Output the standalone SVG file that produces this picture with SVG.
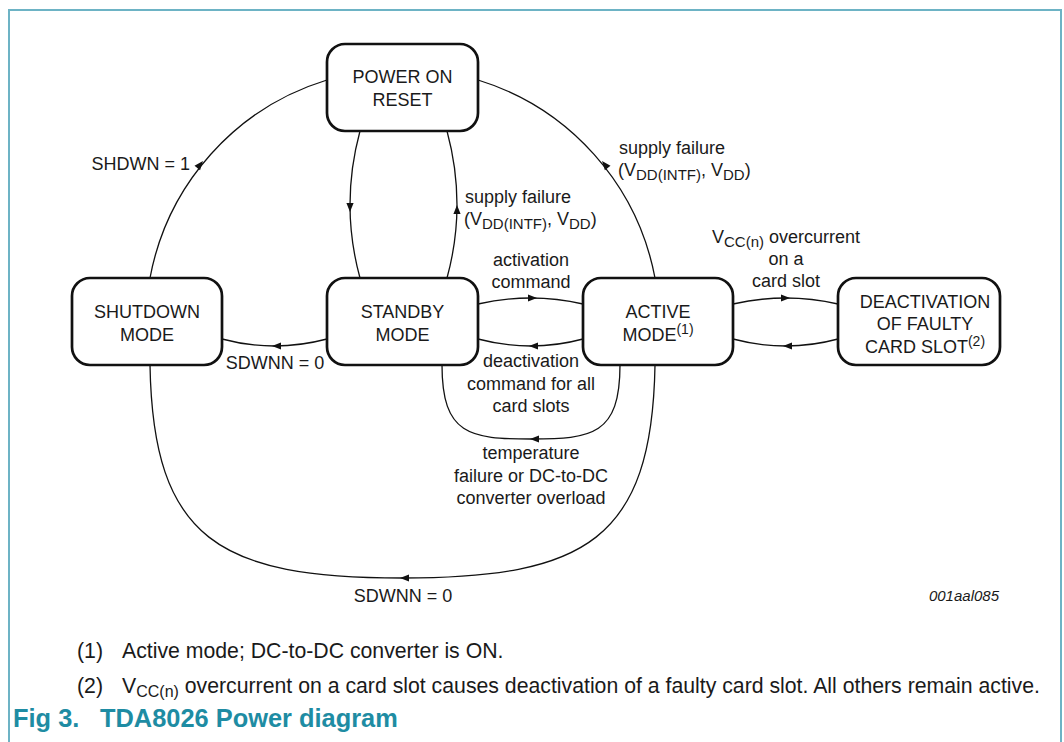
<svg xmlns="http://www.w3.org/2000/svg" width="1064" height="742" viewBox="0 0 1064 742">
<defs>
<style>
.box{fill:#fff;stroke:#111;stroke-width:2.7}
.t{font-family:"Liberation Sans",Arial,sans-serif;font-size:18px;fill:#1a1a1a}
.c{text-anchor:middle}
.e{text-anchor:end}
.ln{fill:none;stroke:#111;stroke-width:1.3}
.ah{fill:#111}
.fn{font-family:"Liberation Sans",Arial,sans-serif;font-size:21.25px;fill:#1a1a1a}
.cap{font-family:"Liberation Sans",Arial,sans-serif;font-size:25.4px;font-weight:bold;fill:#1e8ca3}
.id{font-family:"Liberation Sans",Arial,sans-serif;font-size:15px;font-style:italic;fill:#1a1a1a}
</style>
<path id="ah" d="M0,0 L-9,-3.6 L-9,3.6 Z"/>
</defs>
<rect x="0" y="0" width="1064" height="742" fill="#fff"/>
<path d="M9,742 V10 H1061 V742" fill="none" stroke="#6db3c5" stroke-width="2"/>

<g id="connectors">
<path class="ln" d="M150,278 A256,256 0 0 1 327,80"/>
<use href="#ah" class="ah" transform="translate(203,161) rotate(-50.5)"/>
<path class="ln" d="M655,278 A257,257 0 0 0 478,80"/>
<use href="#ah" class="ah" transform="translate(602,161) rotate(-129.4)"/>
<path class="ln" d="M655,365 C652,540 585,578 402.5,578 C220,578 153,540 150,365"/>
<use href="#ah" class="ah" transform="translate(400,578) rotate(180)"/>
<path class="ln" d="M360,131 Q340,205 360,278"/>
<use href="#ah" class="ah" transform="translate(350,212) rotate(90)"/>
<path class="ln" d="M447,278 Q467,205 447,131"/>
<use href="#ah" class="ah" transform="translate(457,205) rotate(-90)"/>
<path class="ln" d="M327,339 Q274,353 222,339"/>
<use href="#ah" class="ah" transform="translate(272,346) rotate(180)"/>
<path class="ln" d="M478,304 Q531,292 583,304"/>
<use href="#ah" class="ah" transform="translate(537,298)"/>
<path class="ln" d="M583,339 Q531,353 478,339"/>
<use href="#ah" class="ah" transform="translate(529,346) rotate(180)"/>
<path class="ln" d="M620,365 C620,435 592,439 531,439 C470,439 442,435 442,365"/>
<use href="#ah" class="ah" transform="translate(530,439) rotate(180)"/>
<path class="ln" d="M733,304 Q786,292 838,304"/>
<use href="#ah" class="ah" transform="translate(790,298)"/>
<path class="ln" d="M838,339 Q786,353 733,339"/>
<use href="#ah" class="ah" transform="translate(783,346) rotate(180)"/>
</g>

<g id="labels">
<text class="t e" x="190" y="170">SHDWN = 1</text>
<text class="t" x="465" y="203">supply failure</text>
<text class="t" x="464" y="225">(V<tspan dy="4" font-size="15">DD(INTF)</tspan><tspan dy="-4">, V</tspan><tspan dy="4" font-size="15">DD</tspan><tspan dy="-4">)</tspan></text>
<text class="t" x="619" y="154">supply failure</text>
<text class="t" x="618" y="176">(V<tspan dy="4" font-size="15">DD(INTF)</tspan><tspan dy="-4">, V</tspan><tspan dy="4" font-size="15">DD</tspan><tspan dy="-4">)</tspan></text>
<text class="t c" x="531" y="266">activation</text>
<text class="t c" x="531" y="288">command</text>
<text class="t c" x="531" y="367">deactivation</text>
<text class="t c" x="531" y="390">command for all</text>
<text class="t c" x="531" y="412">card slots</text>
<text class="t c" x="531" y="459">temperature</text>
<text class="t c" x="531" y="482">failure or DC-to-DC</text>
<text class="t c" x="531" y="504">converter overload</text>
<text class="t c" x="786" y="243">V<tspan dy="4" font-size="15">CC(n)</tspan><tspan dy="-4"> overcurrent</tspan></text>
<text class="t c" x="786" y="265">on a</text>
<text class="t c" x="786" y="287">card slot</text>
<text class="t c" x="275" y="369">SDWNN = 0</text>
<text class="t c" x="403" y="602">SDWNN = 0</text>
<text class="id e" x="999" y="601">001aal085</text>
</g>

<g id="por">
<rect class="box" x="327" y="44" width="151" height="87" rx="18"/>
<text class="t c" x="402.5" y="83">POWER ON</text>
<text class="t c" x="402.5" y="106">RESET</text>
</g>
<g id="shutdown">
<rect class="box" x="72" y="278" width="150" height="87" rx="18"/>
<text class="t c" x="147" y="318">SHUTDOWN</text>
<text class="t c" x="147" y="341">MODE</text>
</g>
<g id="standby">
<rect class="box" x="327" y="278" width="151" height="87" rx="18"/>
<text class="t c" x="402.5" y="318">STANDBY</text>
<text class="t c" x="402.5" y="341">MODE</text>
</g>
<g id="active">
<rect class="box" x="583" y="278" width="150" height="87" rx="18"/>
<text class="t c" x="658" y="318">ACTIVE</text>
<text class="t c" x="658" y="341">MODE<tspan dy="-7" font-size="14">(1)</tspan></text>
</g>
<g id="deactivation">
<rect class="box" x="838" y="278" width="162" height="87" rx="18"/>
<text class="t c" x="925" y="308">DEACTIVATION</text>
<text class="t c" x="925" y="330">OF FAULTY</text>
<text class="t c" x="925" y="353">CARD SLOT<tspan dy="-7" font-size="14">(2)</tspan></text>
</g>

<g id="notes">
<text class="fn" x="77" y="658">(1)</text>
<text class="fn" x="122" y="658">Active mode; DC-to-DC converter is ON.</text>
<text class="fn" x="77" y="693">(2)</text>
<text class="fn" x="122" y="693">V<tspan dy="4" font-size="16">CC(n)</tspan><tspan dy="-4"> overcurrent on a card slot causes deactivation of a faulty card slot. All others remain active.</tspan></text>
<text class="cap" x="13" y="727">Fig 3.</text>
<text class="cap" x="100" y="727">TDA8026 Power diagram</text>
</g>
</svg>
